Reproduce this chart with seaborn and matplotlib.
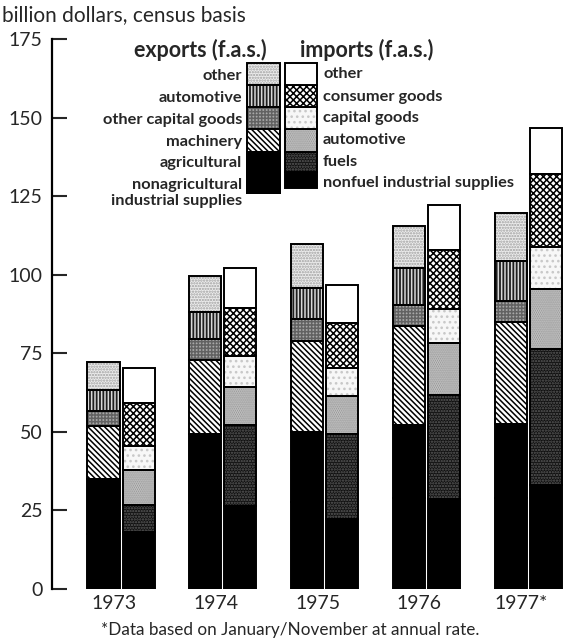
import numpy as np
import matplotlib.pyplot as plt
from matplotlib.patches import Rectangle
import seaborn as sns

# data (billion dollars)
years = ['1973', '1974', '1975', '1976', '1977*']

exp_labels = ['nonagricultural\nindustrial supplies', 'agricultural', 'machinery',
              'other capital goods', 'automotive', 'other']
exp_nonag = [17.4, 27.3, 27.7, 29.0, 28.9]
exp_agri = [17.5, 21.9, 22.2, 23.2, 23.6]
exp_mach = [17.0, 23.8, 29.0, 31.4, 32.5]
exp_ocg = [4.8, 6.5, 7.0, 6.8, 6.5]
exp_auto = [6.6, 8.5, 10.0, 11.8, 13.0]
exp_other = [8.9, 11.7, 13.8, 13.4, 15.2]

imp_labels = ['nonfuel industrial supplies', 'fuels', 'automotive',
              'capital goods', 'consumer goods', 'other']
imp_nonfuel = [18.2, 26.5, 22.3, 28.6, 33.2]
imp_fuels = [8.6, 25.7, 26.9, 33.1, 43.3]
imp_auto = [11.1, 12.1, 12.1, 16.6, 19.1]
imp_capital = [7.6, 9.9, 9.1, 10.8, 13.3]
imp_consumer = [13.6, 15.3, 14.2, 18.7, 23.1]
imp_other = [11.2, 12.7, 12.1, 14.4, 14.7]

exp_series = [exp_nonag, exp_agri, exp_mach, exp_ocg, exp_auto, exp_other]
imp_series = [imp_nonfuel, imp_fuels, imp_auto, imp_capital, imp_consumer, imp_other]

# fill styles: (face, hatch, hatch colour)
exp_styles = [('black', None, 'black'),
              ('black', None, 'black'),
              ('white', '\\' * 6, 'black'),
              ('#a8a8a8', '+++++', '#626262'),
              ('#1e1e1e', '|||||', '#d8d8d8'),
              ('#ececec', '......', '#a0a0a0')]
imp_styles = [('black', None, 'black'),
              ('#111111', '......', '#5c5c5c'),
              ('#d8d8d8', '........', '#8a8a8a'),
              ('#f7f7f7', '...', '#c8c8c8'),
              ('white', 'xxxxx', 'black'),
              ('white', None, 'white')]

sns.set_theme(style='ticks')
plt.rcParams['font.family'] = ['Lato', 'DejaVu Sans']
plt.rcParams['hatch.linewidth'] = 1.1

fig = plt.figure(figsize=(5.65, 6.42), dpi=100)
ax = fig.add_axes([52 / 565, 53 / 642, 513 / 565, 550 / 642])

x = np.arange(len(years))
w = 0.315
off = 0.172


def stack(xpos, series, styles):
    bottom = np.zeros(len(years))
    for vals, (face, hatch, hc) in zip(series, styles):
        vals = np.array(vals)
        ax.bar(xpos, vals, w, bottom=bottom, color=face, hatch=hatch,
               edgecolor=hc, linewidth=0, zorder=2)
        ax.bar(xpos, vals, w, bottom=bottom, fill=False,
               edgecolor='black', linewidth=1.4, zorder=3)
        bottom += vals


stack(x - off, exp_series, exp_styles)
stack(x + off, imp_series, imp_styles)

ax.set_xlim(-0.678, 4.36)
ax.set_ylim(0, 175)
ax.set_yticks(np.arange(0, 176, 25))
ax.set_xticks(x - 0.07)
ax.set_xticklabels(years)
ax.tick_params(axis='y', direction='in', length=11, width=1.5, labelsize=14, pad=7)
ax.tick_params(axis='x', length=0, labelsize=14, pad=4)
for s in ['top', 'right', 'bottom']:
    ax.spines[s].set_visible(False)
ax.spines['left'].set_linewidth(1.6)
ax.spines['left'].set_color('black')
ax.set_facecolor('white')

# legend and texts in pixel coordinates
lg = fig.add_axes([0, 0, 1, 1], zorder=5)
lg.set_xlim(0, 565)
lg.set_ylim(642, 0)
lg.axis('off')

lg.text(2, 15, 'billion dollars, census basis', fontsize=15, va='center', ha='left')
lg.text(267, 50, 'exports (f.a.s.)', fontsize=15.5, fontweight='bold', ha='right', va='center')
lg.text(300, 50, 'imports (f.a.s.)', fontsize=15.5, fontweight='bold', ha='left', va='center')

exp_box = [(63, 85), (85, 107), (107, 129), (129, 152), (152, 193), (152, 193)]
for k in [5, 4, 3, 2, 1, 0]:
    y0, y1 = exp_box[5 - k]
    face, hatch, hc = exp_styles[k]
    lg.add_patch(Rectangle((247, y0), 33, y1 - y0, facecolor=face, hatch=hatch,
                           edgecolor=hc, linewidth=0))
    lg.add_patch(Rectangle((247, y0), 33, y1 - y0, fill=False, edgecolor='black', linewidth=1.4))

imp_box = [(63, 85), (85, 107), (107, 129), (129, 152), (152, 172), (172, 188)]
for k in range(6):
    y0, y1 = imp_box[5 - k]
    face, hatch, hc = imp_styles[k]
    lg.add_patch(Rectangle((285, y0), 32, y1 - y0, facecolor=face, hatch=hatch,
                           edgecolor=hc, linewidth=0))
    lg.add_patch(Rectangle((285, y0), 32, y1 - y0, fill=False, edgecolor='black', linewidth=1.4))

exp_text_y = [193, 163, 142, 120, 98, 76]
for lab, yy in zip(exp_labels, exp_text_y):
    lg.text(242, yy, lab, fontsize=11.8, fontweight='bold', ha='right', va='center',
            linespacing=1.15)
imp_text_y = [183, 162, 140, 118, 97, 74]
for lab, yy in zip(imp_labels, imp_text_y):
    lg.text(323, yy, lab, fontsize=11.8, fontweight='bold', ha='left', va='center')

lg.text(290, 630, '*Data based on January/November at annual rate.', fontsize=12.3,
        ha='center', va='center')

fig.savefig('out.png', dpi=100, facecolor='white')
